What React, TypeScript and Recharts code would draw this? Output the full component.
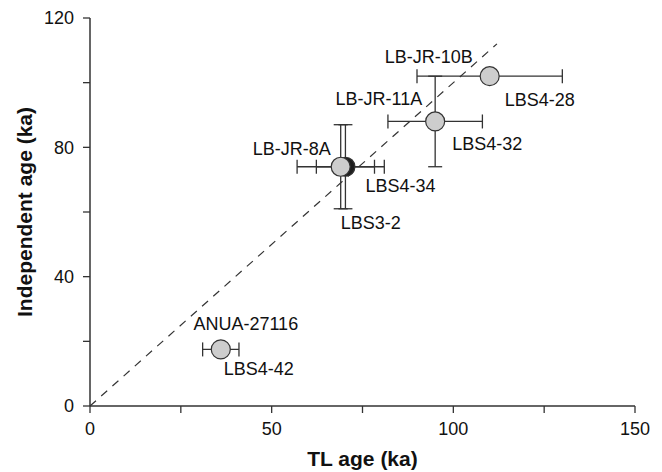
import React from 'react';
import { ScatterChart, Scatter, XAxis, YAxis, ErrorBar, ReferenceLine } from 'recharts';

// ---- data ----
const tlAge = [36, 70.3, 69, 95, 110];
const tlErr = [5, 8, 12, 13, 20];
const indepAge = [17.5, 74, 74, 88, 102];
const indepErr = [0, 13, 13, 14, 0];
const indepLabels = ['ANUA-27116', '', 'LB-JR-8A', 'LB-JR-11A', 'LB-JR-10B'];
const tlLabels = ['LBS4-42', 'LBS4-34', 'LBS3-2', 'LBS4-32', 'LBS4-28'];
const xTicks = [0, 25, 50, 75, 100, 125, 150];
const yTicks = [0, 20, 40, 60, 80, 100, 120];
const oneToOneEnd = 112;

// ---- styles ----
const FONT = 'Arial, "Liberation Sans", sans-serif';
const INK = '#333';
const markerFill = ['#cdcdcd', '#1e1e1e', '#cdcdcd', '#cdcdcd', '#cdcdcd'];
const labelLayout: Record<string, { dx: number; dy: number; anchor: 'start' | 'middle' | 'end' }> = {
  'ANUA-27116': { dx: 25, dy: -26, anchor: 'middle' },
  'LBS4-42': { dx: 3, dy: 19.5, anchor: 'start' },
  'LB-JR-8A': { dx: -10, dy: -18, anchor: 'end' },
  'LBS4-34': { dx: 20, dy: 19, anchor: 'start' },
  'LBS3-2': { dx: 0, dy: 55.5, anchor: 'start' },
  'LB-JR-11A': { dx: -13, dy: -23, anchor: 'end' },
  'LBS4-32': { dx: 17, dy: 22.5, anchor: 'start' },
  'LB-JR-10B': { dx: -17, dy: -20, anchor: 'end' },
  'LBS4-28': { dx: 15, dy: 23, anchor: 'start' },
};

const data = tlAge.map((x, i) => ({
  x,
  y: indepAge[i],
  xErr: tlErr[i],
  yErr: indepErr[i],
  indep: indepLabels[i],
  tl: tlLabels[i],
  idx: i,
}));

const Marker = (props: any) => {
  const { cx, cy, payload } = props;
  if (cx == null || cy == null) return null;
  const labels = [payload.indep, payload.tl].filter((s: string) => s);
  return (
    <g>
      <circle cx={cx} cy={cy} r={9.5} fill={markerFill[payload.idx]} stroke={INK} strokeWidth={1.2} />
      {labels.map((s: string) => {
        const l = labelLayout[s];
        return (
          <text
            key={s}
            x={cx + l.dx}
            y={cy + l.dy}
            dy="0.35em"
            textAnchor={l.anchor}
            fontSize={18}
            fontFamily={FONT}
            fill="#111"
          >
            {s}
          </text>
        );
      })}
    </g>
  );
};

export default function App() {
  return (
    <div style={{ position: 'absolute', left: 0, top: 0, width: 662, height: 472, background: '#fff' }}>
      <ScatterChart width={662} height={472} margin={{ top: 18, right: 27, bottom: 0, left: 0 }}>
        <XAxis
          type="number"
          dataKey="x"
          domain={[0, 150]}
          ticks={xTicks}
          interval={0}
          tickFormatter={(v: number) => (v % 50 === 0 ? String(v) : '')}
          tickSize={7}
          tickMargin={9}
          height={66}
          axisLine={{ stroke: INK, strokeWidth: 1.5 }}
          tickLine={{ stroke: INK, strokeWidth: 1.3 }}
          tick={{ fontSize: 18, fontFamily: FONT, fill: '#111' }}
          label={{
            value: 'TL age (ka)',
            position: 'insideBottom',
            offset: 6,
            style: { fontSize: 21, fontWeight: 'bold', fontFamily: FONT, fill: '#111' },
          }}
        />
        <YAxis
          type="number"
          dataKey="y"
          domain={[0, 120]}
          ticks={yTicks}
          interval={0}
          tickFormatter={(v: number) => (v % 40 === 0 ? String(v) : '')}
          tickSize={7}
          tickMargin={9}
          width={90}
          axisLine={{ stroke: INK, strokeWidth: 1.5 }}
          tickLine={{ stroke: INK, strokeWidth: 1.3 }}
          tick={{ fontSize: 18, fontFamily: FONT, fill: '#111' }}
          label={{
            value: 'Independent age (ka)',
            angle: -90,
            position: 'insideLeft',
            offset: 25,
            style: { textAnchor: 'middle', fontSize: 21, fontWeight: 'bold', fontFamily: FONT, fill: '#111' },
          }}
        />
        <ReferenceLine
          segment={[
            { x: 0, y: 0 },
            { x: oneToOneEnd, y: oneToOneEnd },
          ]}
          stroke={INK}
          strokeWidth={1.2}
          strokeDasharray="8 7"
          ifOverflow="visible"
        />
        <Scatter data={data} isAnimationActive={false} shape={Marker}>
          <ErrorBar dataKey="xErr" direction="x" width={7} stroke={INK} strokeWidth={1.3} />
          <ErrorBar dataKey="yErr" direction="y" width={7} stroke={INK} strokeWidth={1.3} />
        </Scatter>
      </ScatterChart>
    </div>
  );
}
